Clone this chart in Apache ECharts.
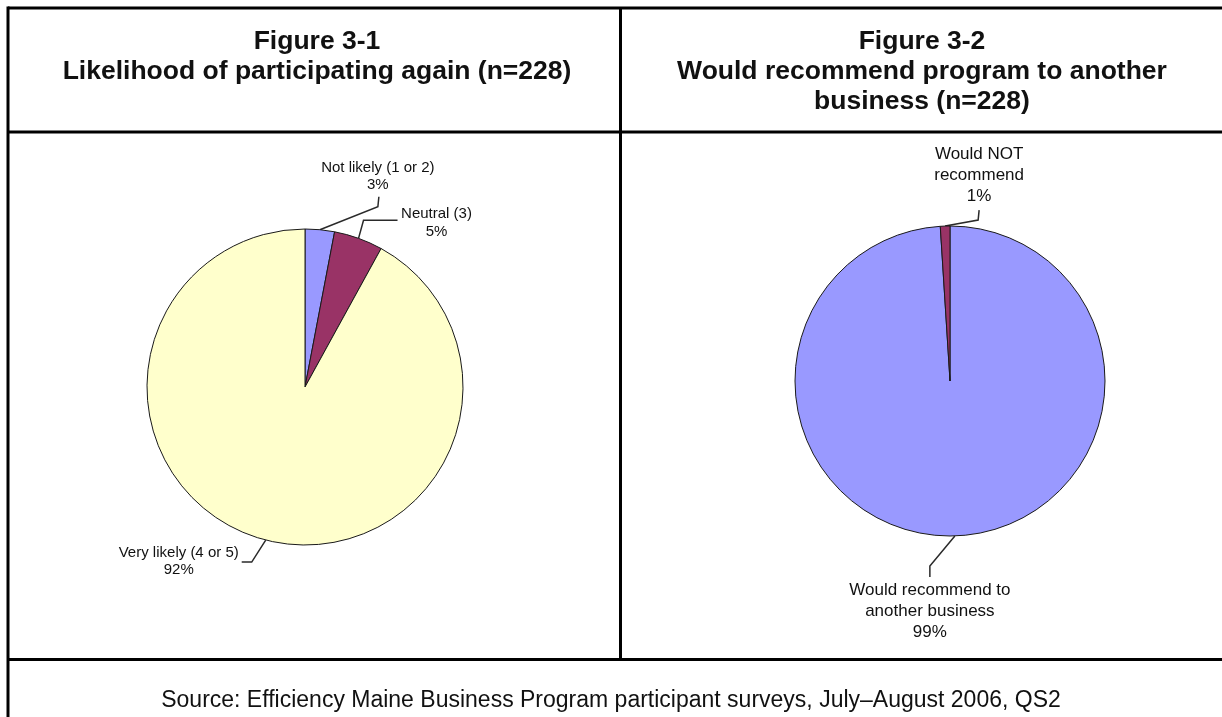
<!DOCTYPE html>
<html>
<head>
<meta charset="utf-8">
<script src="https://cdn.jsdelivr.net/npm/echarts@6/dist/echarts.min.js"></script>
<style>
  html, body { margin: 0; padding: 0; background: #ffffff; }
  #chart { width: 1222px; height: 717px; }
</style>
</head>
<body>
<div id="chart"></div>
<script>
// Figure 3-1: likelihood of participating again
const participateCategories = ['Not likely (1 or 2)', 'Neutral (3)', 'Very likely (4 or 5)'];
const participateValues = [3, 5, 92];

// Figure 3-2: would recommend the program
const recommendCategories = ['Would recommend to\nanother business', 'Would NOT\nrecommend'];
const recommendValues = [99, 1];

const participateTitle = 'Figure 3-1\nLikelihood of participating again (n=228)';
const recommendTitle = 'Figure 3-2\nWould recommend program to another\nbusiness (n=228)';
const sourceNote = 'Source: Efficiency Maine Business Program participant surveys, July\u2013August 2006, QS2';

const FONT = '"Liberation Sans", Arial, Helvetica, sans-serif';
const BLUE = '#9999FF', PLUM = '#993366', CREAM = '#FFFFCC';

// Leader-line shapes, relative to the point where the line leaves the rim.
// label: anchor offset + vertical alignment; bend/end: polyline points.
const participateLeaders = [
  { dx: 58,  dy: -36, va: 'bottom', bend: [58, -23],  end: [59, -33] },
  { dx: 78,  dy: -33, va: 'top',    bend: [5, -18],   end: [39, -18] },
  { dx: -87, dy: 4,   va: 'top',    bend: [-14, 22],  end: [-24, 22] }
];
const recommendLeaders = [
  { dx: -25, dy: 44,  va: 'top',    bend: [-25, 30],  end: [-25, 41] },
  { dx: 34,  dy: -19, va: 'bottom', bend: [33, -6],   end: [34, -16] }
];

function leaderLayout(shapes) {
  return function (params) {
    const s = shapes[params.dataIndex];
    const pts = params.labelLinePoints;
    if (!s || !pts) return {};
    const p = pts[0];
    return {
      x: p[0] + s.dx,
      y: p[1] + s.dy,
      align: 'center',
      verticalAlign: s.va,
      labelLinePoints: [
        [p[0], p[1]],
        [p[0] + s.bend[0], p[1] + s.bend[1]],
        [p[0] + s.end[0], p[1] + s.end[1]]
      ]
    };
  };
}

function pieSeries(names, values, colors, center, radius, labelSize, lineHeight, shapes) {
  return {
    type: 'pie',
    center: center,
    radius: radius,
    startAngle: 90,
    clockwise: true,
    avoidLabelOverlap: false,
    silent: true,
    animation: false,
    data: names.map((n, i) => ({ name: n, value: values[i], itemStyle: { color: colors[i] } })),
    itemStyle: { borderColor: '#1a1a1a', borderWidth: 1 },
    label: {
      show: true,
      position: 'outside',
      formatter: '{b}\n{c}%',
      color: '#111111',
      fontFamily: FONT,
      fontSize: labelSize,
      lineHeight: lineHeight,
      align: 'center'
    },
    labelLine: {
      show: true,
      length: 20,
      length2: 10,
      lineStyle: { color: '#2a2a2a', width: 1.5 }
    },
    labelLayout: leaderLayout(shapes),
    emphasis: { disabled: true }
  };
}

// Panel frame lines
const frameStyle = { stroke: '#000000', lineWidth: 3 };
function frameLine(x1, y1, x2, y2) {
  return { type: 'line', silent: true, shape: { x1, y1, x2, y2 }, style: frameStyle, z: 10 };
}

const chart = echarts.init(document.getElementById('chart'), null, { renderer: 'canvas' });
chart.setOption({
  backgroundColor: '#ffffff',
  animation: false,
  series: [
    pieSeries(participateCategories, participateValues, [BLUE, PLUM, CREAM], [305, 387], 158, 15, 17.5, participateLeaders),
    pieSeries(recommendCategories, recommendValues, [BLUE, PLUM], [950, 381], 155, 17, 21, recommendLeaders)
  ],
  graphic: [
    frameLine(8, 8, 1240, 8),
    frameLine(8, 6.5, 8, 740),
    frameLine(620.5, 8, 620.5, 660),
    frameLine(8, 132, 1240, 132),
    frameLine(8, 659.5, 1240, 659.5),
    {
      type: 'text', silent: true, x: 317, y: 27,
      style: { text: participateTitle, font: 'bold 26.5px ' + FONT, lineHeight: 30,
               align: 'center', verticalAlign: 'top', textAlign: 'center', textVerticalAlign: 'top', fill: '#111111' }
    },
    {
      type: 'text', silent: true, x: 922, y: 27,
      style: { text: recommendTitle, font: 'bold 26.5px ' + FONT, lineHeight: 30,
               align: 'center', verticalAlign: 'top', textAlign: 'center', textVerticalAlign: 'top', fill: '#111111' }
    },
    {
      type: 'text', silent: true, x: 611, y: 701,
      style: { text: sourceNote, font: '23px ' + FONT,
               align: 'center', verticalAlign: 'middle', textAlign: 'center', textVerticalAlign: 'middle', fill: '#111111' }
    }
  ]
});
</script>
</body>
</html>
